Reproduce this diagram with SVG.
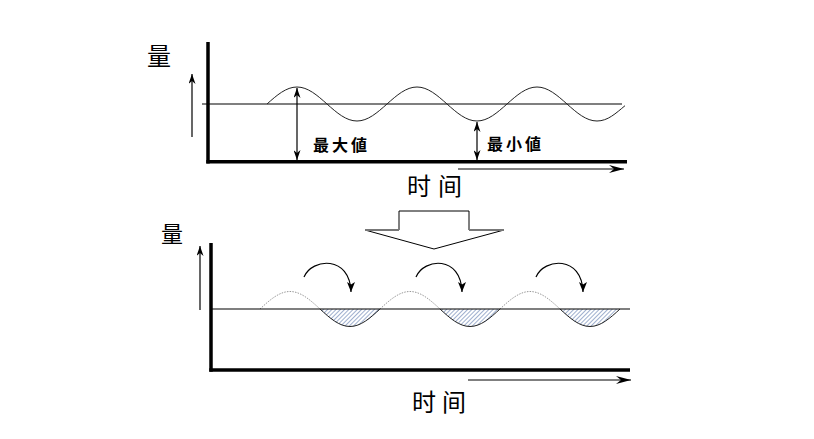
<svg xmlns="http://www.w3.org/2000/svg" width="814" height="439" viewBox="0 0 814 439">
<style>
.ax{stroke:#000;stroke-width:3.5;fill:none}
.ln{stroke:#000;stroke-width:1.2;fill:none}
.wave{stroke:#222;stroke-width:1;fill:none}
.dot{stroke:#999;stroke-width:1;stroke-dasharray:1.5 1.2;fill:none}
.big{font-family:"Noto Sans CJK JP","Noto Sans CJK SC",sans-serif;font-size:24px;fill:#000}
.lbl{font-family:"Noto Sans CJK JP","Noto Sans CJK SC",sans-serif;font-size:16px;font-weight:bold;fill:#000;letter-spacing:3px}
</style>
<defs>
<marker id="ah" viewBox="0 0 10 7" refX="10" refY="3.5" markerWidth="10" markerHeight="7" markerUnits="userSpaceOnUse" orient="auto-start-reverse">
<path d="M0,0 L10,3.5 L0,7 L3,3.5 z" fill="#000"/>
</marker>
<marker id="oh" viewBox="0 0 15 8" refX="15" refY="4" markerWidth="15" markerHeight="8" markerUnits="userSpaceOnUse" orient="auto">
<path d="M0,0 L15,4 L0,8 L5,4 z" fill="#000"/>
</marker>
<marker id="ch" viewBox="0 0 8 10" refX="4" refY="10" markerWidth="8" markerHeight="10" markerUnits="userSpaceOnUse" orient="0">
<path d="M0,0 L4,2.5 L8,0 L4,10 z" fill="#000"/>
</marker>
<pattern id="hatch" width="3" height="3" patternUnits="userSpaceOnUse" patternTransform="rotate(45)">
<line x1="0" y1="0" x2="0" y2="3" stroke="#3d5f9e" stroke-width="1"/>
</pattern>
</defs>

<g id="top-chart">
<text class="big" x="147" y="65">量</text>
<line class="ln" x1="192" y1="137" x2="192" y2="74" marker-end="url(#ah)"/>
<line class="ln" x1="202" y1="104" x2="622" y2="104"/>
<path class="wave" d="M267,104 c9.78,-8.71 19.14,-17 30,-17 c10.86,0 20.22,8.29 30,17 c9.78,8.71 19.14,17 30,17 c10.86,0 20.22,-8.29 30,-17 c9.78,-8.71 19.14,-17 30,-17 c10.86,0 20.22,8.29 30,17 c9.78,8.71 19.14,17 30,17 c10.86,0 20.22,-8.29 30,-17 c9.78,-8.71 19.14,-17 30,-17 c10.86,0 20.22,8.29 30,17 c9.78,8.71 19.14,17 30,17 c10.86,0 18.8,-7.7 28,-15.3"/>
<line class="ax" x1="208" y1="42" x2="208" y2="163.5"/>
<line class="ax" x1="206.3" y1="161.7" x2="627" y2="161.7"/>
<line class="ln" x1="458" y1="169" x2="624" y2="169" marker-end="url(#oh)"/>
<text class="big" x="407" y="195" style="letter-spacing:7px">时间</text>
</g>

<g id="max-value">
<line class="ln" x1="297" y1="88" x2="297" y2="160" marker-start="url(#ah)" marker-end="url(#ah)"/>
<text class="lbl" x="313" y="151">最大値</text>
</g>

<g id="min-value">
<line class="ln" x1="477" y1="122" x2="477" y2="160" marker-start="url(#ah)" marker-end="url(#ah)"/>
<text class="lbl" x="487" y="150">最小値</text>
</g>

<g id="transition-arrow">
<polygon points="399,211 469,211 469,230 504,230 434,249 365,230 399,230" fill="#fff" stroke="#000" stroke-width="1"/>
<line x1="365" y1="230" x2="399" y2="230" stroke="#777" stroke-width="2"/>
<line x1="469" y1="230" x2="504" y2="230" stroke="#777" stroke-width="2"/>
</g>

<g id="bottom-chart">
<text class="big" x="161" y="242" style="font-size:22px">量</text>
<line class="ln" x1="200" y1="310" x2="200" y2="246" marker-end="url(#ah)"/>
<path d="M320,309 c9.78,10.4 19.14,17.5 30,17.5 c10.86,0 20.22,-7.1 30,-17.5 z M440,309 c9.78,10.4 19.14,17.5 30,17.5 c10.86,0 20.22,-7.1 30,-17.5 z M560,309 c9.78,10.4 19.14,17.5 30,17.5 c10.86,0 20.22,-7.1 30,-17.5 z" fill="url(#hatch)" stroke="none"/>
<path class="dot" d="M260,309 c9.78,-8.97 19.14,-17.5 30,-17.5 c10.86,0 20.22,8.53 30,17.5 M380,309 c9.78,-8.97 19.14,-17.5 30,-17.5 c10.86,0 20.22,8.53 30,17.5 M500,309 c9.78,-8.97 19.14,-17.5 30,-17.5 c10.86,0 20.22,8.53 30,17.5"/>
<line class="ln" x1="211" y1="309" x2="630" y2="309"/>
<path class="wave" d="M320,309 c9.78,8.97 19.14,17.5 30,17.5 c10.86,0 20.22,-8.53 30,-17.5 M440,309 c9.78,8.97 19.14,17.5 30,17.5 c10.86,0 20.22,-8.53 30,-17.5 M560,309 c9.78,8.97 19.14,17.5 30,17.5 c10.86,0 20.22,-8.53 30,-17.5"/>
<line class="ax" x1="211" y1="243" x2="211" y2="371.7"/>
<line class="ax" x1="209.3" y1="370" x2="630" y2="370"/>
<line class="ln" x1="468" y1="380" x2="631" y2="380" marker-end="url(#oh)"/>
<text class="big" x="412" y="411" style="letter-spacing:6px">时间</text>
</g>

<g id="connectors">
<path class="ln" d="M304,277 C312,258 350,255 351,292" marker-end="url(#ch)"/>
<path class="ln" d="M416,277 C424,258 461,255 462,292" marker-end="url(#ch)"/>
<path class="ln" d="M536,277 C544,258 582,255 583,292" marker-end="url(#ch)"/>
</g>
</svg>
